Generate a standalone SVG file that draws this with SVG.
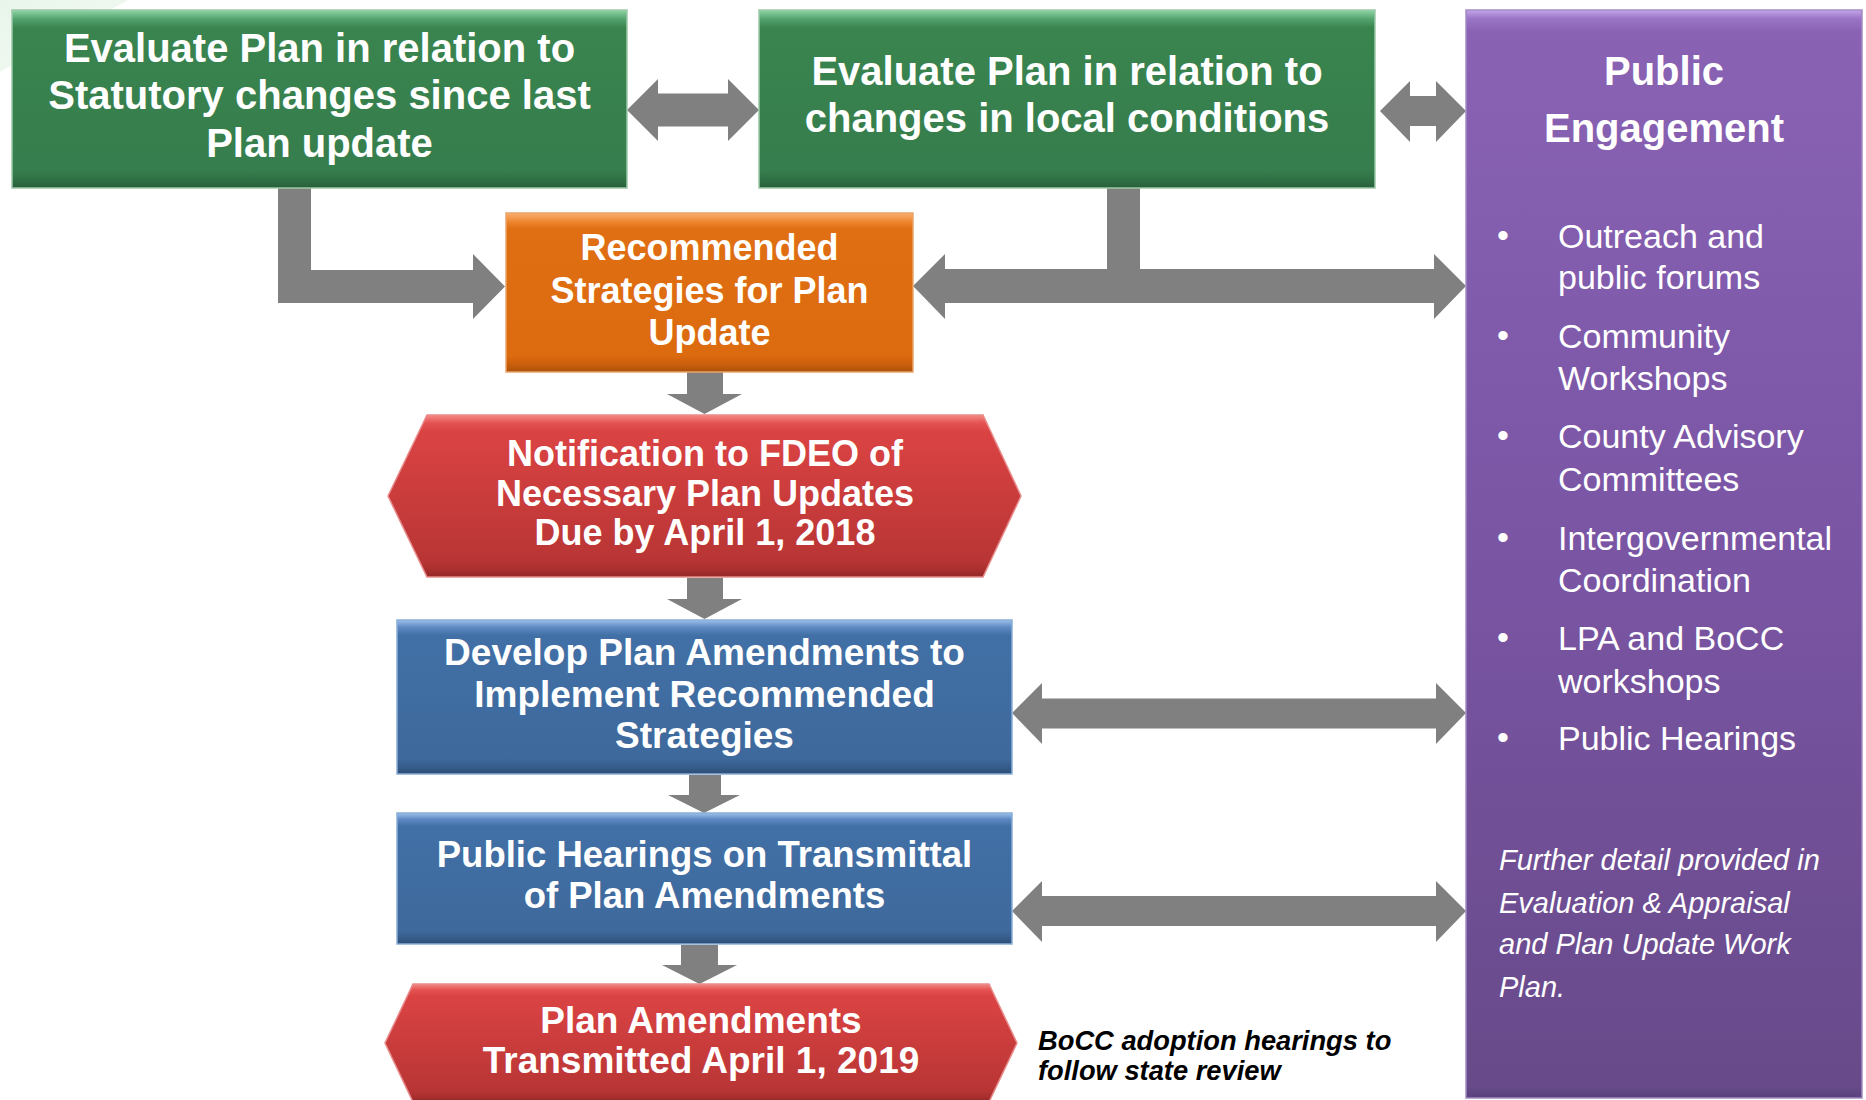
<svg xmlns="http://www.w3.org/2000/svg" width="1866" height="1100" viewBox="0 0 1866 1100">
<defs>
<linearGradient id="gGreen" x1="0" y1="0" x2="0" y2="1">
<stop offset="0" stop-color="#8fd6a6"/><stop offset="0.05" stop-color="#55a46f"/><stop offset="0.1" stop-color="#39844f"/><stop offset="0.9" stop-color="#367e4d"/><stop offset="0.96" stop-color="#2e6f44"/><stop offset="1" stop-color="#275e3a"/>
</linearGradient>
<linearGradient id="gOrange" x1="0" y1="0" x2="0" y2="1">
<stop offset="0" stop-color="#f9b070"/><stop offset="0.05" stop-color="#ef8a34"/><stop offset="0.1" stop-color="#e06e12"/><stop offset="0.9" stop-color="#dc6a0f"/><stop offset="0.96" stop-color="#c65d0c"/><stop offset="1" stop-color="#a94f0a"/>
</linearGradient>
<linearGradient id="gRed" x1="0" y1="0" x2="0" y2="1">
<stop offset="0" stop-color="#f48a84"/><stop offset="0.05" stop-color="#e45252"/><stop offset="0.1" stop-color="#db4343"/><stop offset="0.9" stop-color="#b93535"/><stop offset="0.96" stop-color="#a82e2e"/><stop offset="1" stop-color="#922828"/>
</linearGradient>
<linearGradient id="gBlue" x1="0" y1="0" x2="0" y2="1">
<stop offset="0" stop-color="#9cc0ec"/><stop offset="0.05" stop-color="#5b88c0"/><stop offset="0.1" stop-color="#4170a6"/><stop offset="0.9" stop-color="#3e699c"/><stop offset="0.96" stop-color="#355b89"/><stop offset="1" stop-color="#2c4d75"/>
</linearGradient>
<linearGradient id="gPurple" x1="0" y1="0" x2="0" y2="1">
<stop offset="0" stop-color="#c4a6ea"/><stop offset="0.008" stop-color="#9a74c6"/><stop offset="0.02" stop-color="#8962b4"/><stop offset="0.5" stop-color="#7a55a4"/><stop offset="0.99" stop-color="#684a8a"/><stop offset="1" stop-color="#57407a"/>
</linearGradient>
<linearGradient id="gBg" x1="0" y1="0" x2="1" y2="1">
<stop offset="0" stop-color="#e9f5ea"/><stop offset="1" stop-color="#f3faf3"/>
</linearGradient>
</defs>
<style>
.t{font-family:"Liberation Sans",Arial,sans-serif;font-weight:bold;fill:#ffffff;text-anchor:middle}
.li{font-family:"Liberation Sans",Arial,sans-serif;font-size:34px;fill:#ffffff}
.bu{font-family:"Liberation Sans",Arial,sans-serif;font-size:34px;fill:#ffffff;text-anchor:middle}
.it{font-family:"Liberation Sans",Arial,sans-serif;font-size:29px;font-style:italic;fill:#ffffff}
.note{font-family:"Liberation Sans",Arial,sans-serif;font-size:27.3px;font-style:italic;font-weight:bold;fill:#000000}
.arr{fill:#808080}
.edge{stroke-width:1.5}
</style>
<rect x="0" y="0" width="1866" height="1100" fill="#ffffff"/>
<polygon points="0,0 128,0 0,72" fill="url(#gBg)"/>

<g id="connectors">
<polygon class="arr" points="627,110 658,79 658,93.5 728,93.5 728,79 759,110 728,141 728,126.5 658,126.5 658,141"/>
<polygon class="arr" points="1380,111 1410,81 1410,96 1436,96 1436,81 1466,111 1436,142 1436,126 1410,126 1410,142"/>
<polygon class="arr" points="278,188 311,188 311,270 473,270 473,254 505,286.5 473,319 473,303 278,303"/>
<polygon class="arr" points="913,286 945,254 945,269 1107,269 1107,188 1140,188 1140,269 1434,269 1434,254 1466,286 1434,319 1434,303 945,303 945,319"/>
<polygon class="arr" points="687,372 723,372 723,394 742,394 704.5,414 667,394 687,394"/>
<polygon class="arr" points="687,578 723,578 723,599 742,599 704.5,619 667,599 687,599"/>
<polygon class="arr" points="689,775 721,775 721,795 740,795 704,813 668,795 689,795"/>
<polygon class="arr" points="681,945 718,945 718,965 737,965 699.5,984 662,965 681,965"/>
<polygon class="arr" points="1012,713 1042,683 1042,698.5 1436,698.5 1436,683 1466,713 1436,744 1436,728.5 1042,728.5 1042,744"/>
<polygon class="arr" points="1012,911 1042,881 1042,896 1436,896 1436,881 1466,911 1436,942 1436,926 1042,926 1042,942"/>
</g>

<g id="node-statutory">
<rect x="12" y="10" width="615" height="178" fill="url(#gGreen)" stroke="#9cc9a8" class="edge"/>
<text class="t" font-size="40" x="319.5"><tspan x="319.5" y="62">Evaluate Plan in relation to</tspan><tspan x="319.5" y="109">Statutory changes since last</tspan><tspan x="319.5" y="157">Plan update</tspan></text>
</g>

<g id="node-local">
<rect x="759" y="10" width="616" height="178" fill="url(#gGreen)" stroke="#9cc9a8" class="edge"/>
<text class="t" font-size="40"><tspan x="1067" y="85">Evaluate Plan in relation to</tspan><tspan x="1067" y="132">changes in local conditions</tspan></text>
</g>

<g id="node-public-engagement">
<rect x="1466" y="10" width="396" height="1088" fill="url(#gPurple)" stroke="#a48ac4" class="edge"/>
<text class="t" font-size="40"><tspan x="1664" y="85">Public</tspan><tspan x="1664" y="142">Engagement</tspan></text>
<text class="bu" x="1503" y="247">•</text>
<text class="bu" x="1503" y="347">•</text>
<text class="bu" x="1503" y="447">•</text>
<text class="bu" x="1503" y="549">•</text>
<text class="bu" x="1503" y="649">•</text>
<text class="bu" x="1503" y="749">•</text>
<text class="li"><tspan x="1558" y="248">Outreach and</tspan><tspan x="1558" y="289">public forums</tspan><tspan x="1558" y="348">Community</tspan><tspan x="1558" y="390">Workshops</tspan><tspan x="1558" y="448">County Advisory</tspan><tspan x="1558" y="491">Committees</tspan><tspan x="1558" y="550">Intergovernmental</tspan><tspan x="1558" y="592">Coordination</tspan><tspan x="1558" y="650">LPA and BoCC</tspan><tspan x="1558" y="693">workshops</tspan><tspan x="1558" y="750">Public Hearings</tspan></text>
<text class="it"><tspan x="1499" y="870">Further detail provided in</tspan><tspan x="1499" y="913">Evaluation &amp; Appraisal</tspan><tspan x="1499" y="954">and Plan Update Work</tspan><tspan x="1499" y="997">Plan.</tspan></text>
</g>

<g id="node-recommended">
<rect x="506" y="213" width="407" height="159" fill="url(#gOrange)" stroke="#e9a46a" class="edge"/>
<text class="t" font-size="36"><tspan x="709.5" y="260">Recommended</tspan><tspan x="709.5" y="303">Strategies for Plan</tspan><tspan x="709.5" y="345">Update</tspan></text>
</g>

<g id="node-notification">
<polygon points="388,496 427,415 983,415 1021,496 983,577 427,577" fill="url(#gRed)" stroke="#e88a8a" class="edge"/>
<text class="t" font-size="36"><tspan x="705" y="466">Notification to FDEO of</tspan><tspan x="705" y="506">Necessary Plan Updates</tspan><tspan x="705" y="545">Due by April 1, 2018</tspan></text>
</g>

<g id="node-develop">
<rect x="397" y="620" width="615" height="154" fill="url(#gBlue)" stroke="#8aaed8" class="edge"/>
<text class="t" font-size="37"><tspan x="704.5" y="665">Develop Plan Amendments to</tspan><tspan x="704.5" y="707">Implement Recommended</tspan><tspan x="704.5" y="748">Strategies</tspan></text>
</g>

<g id="node-hearings">
<rect x="397" y="813" width="615" height="131" fill="url(#gBlue)" stroke="#8aaed8" class="edge"/>
<text class="t" font-size="36.5"><tspan x="704.5" y="867">Public Hearings on Transmittal</tspan><tspan x="704.5" y="908">of Plan Amendments</tspan></text>
</g>

<g id="node-transmitted">
<polygon points="385,1043 413,984 989,984 1017,1043 989,1102 413,1102" fill="url(#gRed)" stroke="#e88a8a" class="edge"/>
<text class="t" font-size="37"><tspan x="701" y="1033">Plan Amendments</tspan><tspan x="701" y="1073">Transmitted April 1, 2019</tspan></text>
</g>

<g id="note">
<text class="note"><tspan x="1038" y="1050">BoCC adoption hearings to</tspan><tspan x="1038" y="1080">follow state review</tspan></text>
</g>
</svg>
